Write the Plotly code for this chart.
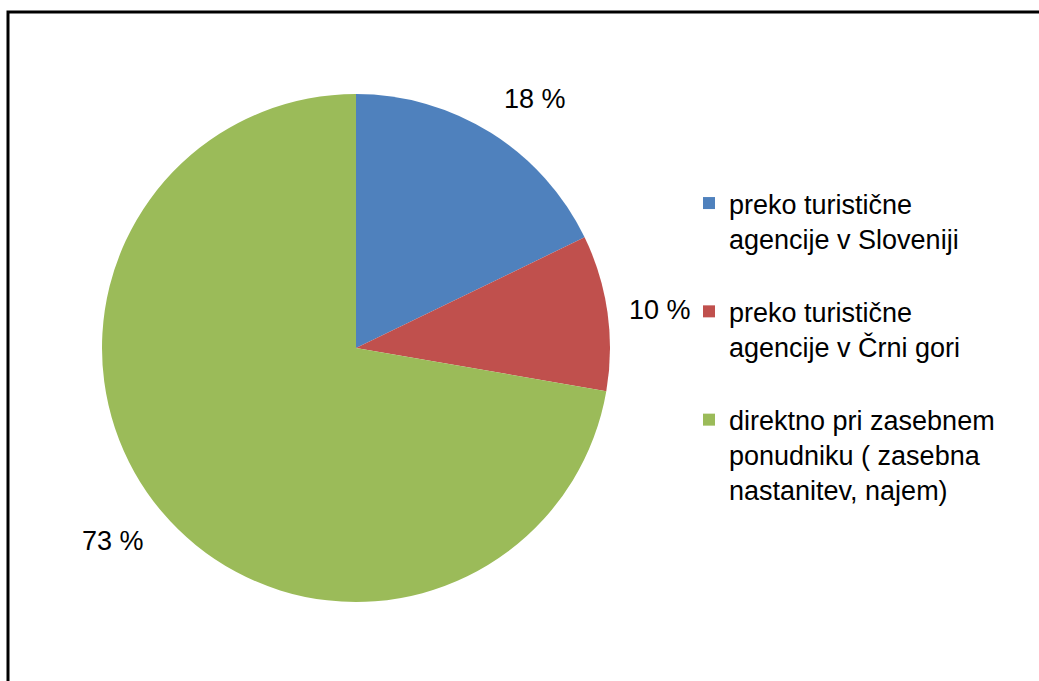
import math
import plotly.graph_objects as go

# Booking channel shares (percent)
categories = [
    "preko turistične<br>agencije v Sloveniji",
    "preko turistične<br>agencije v Črni gori",
    "direktno pri zasebnem<br>ponudniku ( zasebna<br>nastanitev, najem)",
]
shares = [18, 10, 73]
colors = ["#4F81BD", "#C0504D", "#9BBB59"]

W, H = 1039, 681
FONT = "Liberation Sans, Arial, sans-serif"

# Pie placement (paper fractions)
dom_x = [102 / W, 610 / W]
dom_y = [79 / H, 587 / H]
radius_px = (dom_y[1] - dom_y[0]) * H / 2

# A blank line after each legend entry opens up the vertical gap between items
legend_names = [c + "<br> " for c in categories]

fig = go.Figure(
    go.Pie(
        labels=legend_names,
        values=shares,
        sort=False,
        direction="clockwise",
        rotation=0,
        marker=dict(colors=colors, line=dict(width=0)),
        textinfo="none",
        hoverinfo="label+value",
        domain=dict(x=dom_x, y=dom_y),
    )
)

# Percentage labels placed just outside each slice along its mid-angle
cx = (dom_x[0] + dom_x[1]) / 2
cy = (dom_y[0] + dom_y[1]) / 2
total = sum(shares)
label_r = radius_px + 20
cum = 0
annotations = []
for v in shares:
    mid = (cum + v / 2) / total * 2 * math.pi
    cum += v
    s, c = math.sin(mid), math.cos(mid)
    xa = "left" if s > 0.3 else ("right" if s < -0.3 else "center")
    ya = "bottom" if c > 0.3 else ("top" if c < -0.3 else "middle")
    annotations.append(
        dict(
            x=cx + label_r * s / W,
            y=cy + label_r * c / H,
            xref="paper",
            yref="paper",
            text=f"{v} %",
            showarrow=False,
            xanchor=xa,
            yanchor=ya,
            font=dict(family=FONT, size=27, color="#000000"),
        )
    )

fig.update_layout(
    width=W,
    height=H,
    margin=dict(l=0, r=0, t=0, b=0),
    paper_bgcolor="#FFFFFF",
    plot_bgcolor="#FFFFFF",
    showlegend=True,
    legend=dict(
        x=689 / W,
        y=1 - 179 / H,
        xanchor="left",
        yanchor="top",
        valign="top",
        font=dict(family=FONT, size=27, color="#000000"),
        bgcolor="rgba(0,0,0,0)",
        itemclick=False,
        itemdoubleclick=False,
    ),
    annotations=annotations,
    shapes=[
        dict(
            type="rect",
            xref="paper",
            yref="paper",
            x0=8 / W,
            x1=1.05,
            y0=-0.05,
            y1=1 - 12 / H,
            line=dict(color="#000000", width=3),
            fillcolor="rgba(0,0,0,0)",
        )
    ],
)

fig.write_html("out.html")
